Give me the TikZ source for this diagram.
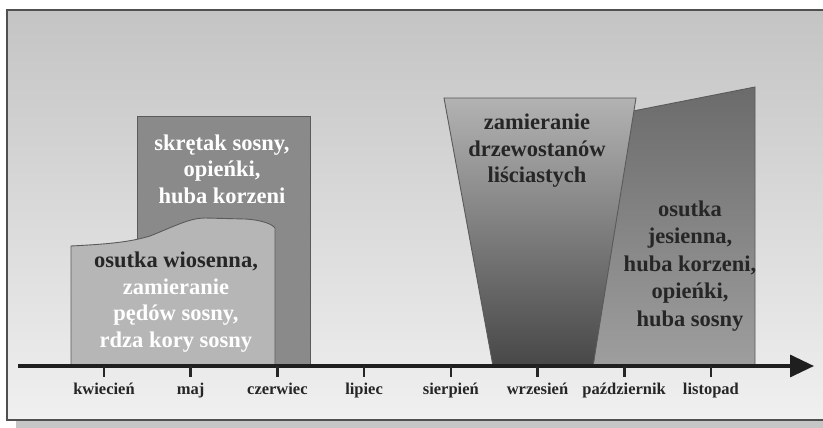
\documentclass[tikz,border=0pt]{standalone}
\usepackage{fontspec}
\setmainfont{Liberation Serif}
\usetikzlibrary{arrows.meta}
\definecolor{frameline}{HTML}{505050}
\definecolor{bgtop}{HTML}{C4C4C4}
\definecolor{bgbot}{HTML}{F0F0F0}
\definecolor{tallfill}{HTML}{8A8A8A}
\definecolor{frontfill}{HTML}{B6B6B6}
\definecolor{edge}{HTML}{5A5A5A}
\tikzset{
  shapeedge/.style={draw=edge, line width=0.9pt},
  bigtext/.style={font=\fontsize{22.5}{26.5}\selectfont\bfseries, align=center, inner sep=0pt},
  monthlabel/.style={font=\fontsize{16.5}{18}\selectfont\bfseries, inner sep=0pt, text=black!85, text height=11pt, text depth=4pt},
  tickline/.style={line width=2.6pt, draw=black!85},
}
\begin{document}
\begin{tikzpicture}[x=1pt,y=-1pt]
\useasboundingbox (0,0) rectangle (823,428);
% shadow strip and background
\fill[gray!45] (16,420) rectangle (823,428);
\shade[top color=bgtop, bottom color=bgbot] (7,10) rectangle (823,420);
\draw[frameline, line width=2pt] (823,10) -- (7,10) -- (7,420) -- (823,420);
% tall rectangle
\fill[tallfill, shapeedge] (137,116) rectangle (310,366);
% front wavy shape
\path[shapeedge, fill=frontfill] (71,246) .. controls (110,244) and (130,242) .. (150,236)
  .. controls (175,226) and (190,218) .. (205,218) -- (245,219)
  .. controls (262,220) and (272,224) .. (275,228) -- (275,366) -- (71,366) -- cycle;
% right shape
\shade[top color=black!58, bottom color=black!38, draw=edge, line width=0.9pt]
  (628,112) -- (755,87) -- (755,366) -- (593,366) -- cycle;
% trapezoid
\shade[top color=black!30, bottom color=black!72, draw=edge, line width=0.9pt]
  (444,98) -- (636,98) -- (593,366) -- (493,366) -- cycle;
% axis
\coordinate (axstart) at (18,366);
\coordinate (axend) at (814,366);
\draw[line width=3.4pt, draw=black!88, -{Triangle[length=24pt,width=22pt]}] (axstart) -- (axend);
% ticks and labels
\foreach \i/\m in {0/kwiecień,1/maj,2/czerwiec,3/lipiec,4/sierpień,5/wrzesień,6/październik,7/listopad}{
  \pgfmathsetmacro{\xx}{104+86.7*\i}
  \coordinate (t\i) at (\xx,366);
  \coordinate (tb\i) at (\xx,377);
  \draw[tickline] (t\i) -- (tb\i);
  \node[monthlabel] (m\i) at (\xx,391) {\m};
}
% texts
\node[bigtext, text=white] (talltext) at (222,169) {skrętak sosny,\\opieńki,\\huba korzeni};
\node[bigtext] (fronttext) at (176,302) {\textcolor{black!85}{osutka wiosenna,}\\\textcolor{white}{zamieranie}\\\textcolor{white}{pędów sosny,}\\\textcolor{white}{rdza kory sosny}};
\node[bigtext, text=black!85] (traptext) at (537,151) {zamieranie\\drzewostanów\\liściastych};
\node[bigtext, text=black!85, font=\fontsize{22.5}{27.5}\selectfont\bfseries] (righttext) at (690,266) {osutka\\jesienna,\\huba korzeni,\\opieńki,\\huba sosny};
\end{tikzpicture}
\end{document}
